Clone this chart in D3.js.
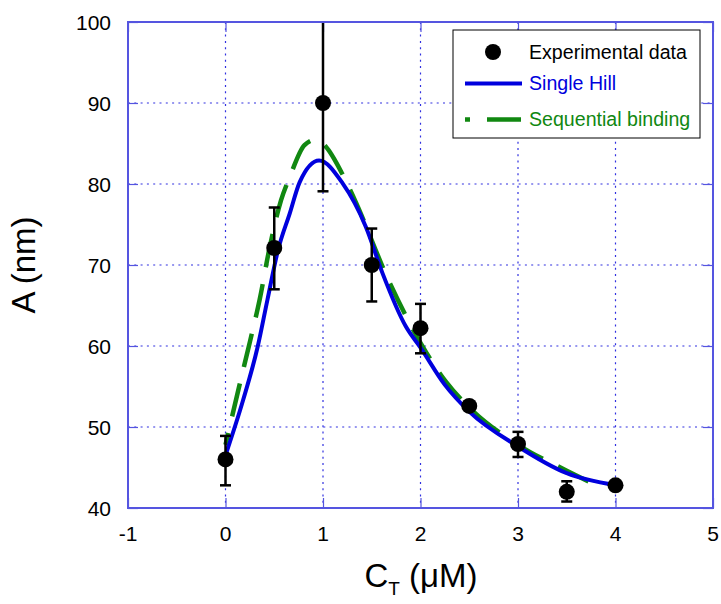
<!DOCTYPE html>
<html>
<head>
<meta charset="utf-8">
<script src="https://cdn.jsdelivr.net/npm/d3@7"></script>
<style>
  html, body { margin: 0; padding: 0; background: #fff; }
  text { font-family: "Liberation Sans", Arial, sans-serif; }
</style>
</head>
<body>
<svg id="chart" width="721" height="604"></svg>
<script>
// Measured amplitude vs total concentration
const concentration = [0, 0.5, 1, 1.5, 2, 2.5, 3, 3.5, 4];
const amplitude     = [46, 72.1, 90, 70, 62.2, 52.6, 47.9, 42, 42.8];
const errLow        = [42.8, 67, 79.1, 65.5, 59.1, null, 46.3, 40.8, null];
const errHigh       = [48.9, 77.1, 101, 74.5, 65.2, null, 49.4, 43.3, null];

// Fitted curve: single Hill model
const hillX = [0, 0.18, 0.33, 0.43, 0.54, 0.66, 0.76, 0.96, 1.2, 1.44, 1.61, 1.85, 2.0, 2.25, 2.5, 3.0, 3.5, 4.0];
const hillY = [46.5, 53.3, 59.9, 65.7, 71.9, 76.4, 80.2, 82.9, 80.1, 74.7, 69.0, 62.4, 59.8, 55.2, 51.9, 47.6, 44.3, 42.8];

// Fitted curve: sequential binding model
const seqX = [0, 0.144, 0.25, 0.35, 0.45, 0.57, 0.66, 0.81, 0.93, 1.03, 1.2, 1.32, 1.68, 2.0, 2.26, 2.5, 3.0, 3.5, 3.75];
const seqY = [47.8, 55.2, 60.5, 65.7, 72.0, 78.0, 80.9, 84.8, 85.5, 84.6, 81.2, 78.2, 67.9, 60.4, 55.6, 52.4, 47.8, 44.6, 43.1];

const xTicks = [-1, 0, 1, 2, 3, 4, 5];
const yTicks = [40, 50, 60, 70, 80, 90, 100];
const legendLabels = ["Experimental data", "Single Hill", "Sequential binding"];

(function () {
  const svg = d3.select("#chart");
  const pL = 128, pR = 713, pT = 22, pB = 508;

  const x = d3.scaleLinear().domain([-1, 5]).range([pL, pR]);
  const y = d3.scaleLinear().domain([40, 100]).range([pB, pT]);

  const frameColor = "#5555e0";
  const gridColor = "#3030e0";
  const dashOn = 34, dashOff = 17;

  svg.append("defs").append("clipPath").attr("id", "plotClip")
    .append("rect").attr("x", pL).attr("y", pT)
    .attr("width", pR - pL).attr("height", pB - pT);

  // grid
  const grid = svg.append("g");
  grid.selectAll("line.gx").data(xTicks.slice(1, -1)).join("line")
    .attr("class", "gx")
    .attr("x1", d => x(d)).attr("x2", d => x(d))
    .attr("y1", pT).attr("y2", pB)
    .attr("stroke", gridColor).attr("stroke-width", 1.2)
    .attr("stroke-dasharray", "2,4.3");
  grid.selectAll("line.gy").data(yTicks.slice(1, -1)).join("line")
    .attr("class", "gy")
    .attr("y1", d => y(d)).attr("y2", d => y(d))
    .attr("x1", pL).attr("x2", pR)
    .attr("stroke", gridColor).attr("stroke-width", 1.2)
    .attr("stroke-dasharray", "2,4.3");

  // axes (ticks pointing inward)
  const xAxis = svg.append("g").attr("transform", `translate(0,${pB})`)
    .call(d3.axisTop(x).tickValues(xTicks).tickSize(10).tickFormat(""));
  const yAxis = svg.append("g").attr("transform", `translate(${pL},0)`)
    .call(d3.axisRight(y).tickValues(yTicks).tickSize(10).tickFormat(""));
  const xAxisTop = svg.append("g").attr("transform", `translate(0,${pT})`)
    .call(d3.axisBottom(x).tickValues(xTicks).tickSize(10).tickFormat(""));
  const yAxisRight = svg.append("g").attr("transform", `translate(${pR},0)`)
    .call(d3.axisLeft(y).tickValues(yTicks).tickSize(10).tickFormat(""));
  [xAxis, yAxis, xAxisTop, yAxisRight].forEach(g => {
    g.select(".domain").remove();
    g.selectAll("line").attr("stroke", frameColor).attr("stroke-width", 1.2);
  });

  // tick labels
  svg.append("g").selectAll("text").data(xTicks).join("text")
    .attr("x", d => x(d)).attr("y", pB + 33)
    .attr("text-anchor", "middle").attr("font-size", 21).attr("fill", "#000")
    .text(d => d);
  svg.append("g").selectAll("text").data(yTicks).join("text")
    .attr("x", 111).attr("y", d => y(d) + 7.5)
    .attr("text-anchor", "end").attr("font-size", 21).attr("fill", "#000")
    .text(d => d);

  // curves
  const plot = svg.append("g").attr("clip-path", "url(#plotClip)");
  const line = d3.line().x(d => x(d[0])).y(d => y(d[1])).curve(d3.curveMonotoneX);

  const seqPath = plot.append("path")
    .datum(seqX.map((v, i) => [v, seqY[i]]))
    .attr("d", line).attr("fill", "none")
    .attr("stroke", "#118811").attr("stroke-width", 4.5)
    .attr("stroke-dasharray", `${dashOn},${dashOff}`);

  // phase the dashes so that a gap sits over the top of the peak
  const node = seqPath.node();
  const total = node.getTotalLength();
  const target = x(0.81);
  let lo = 0, hi = total;
  for (let k = 0; k < 40; k++) {
    const mid = (lo + hi) / 2;
    if (node.getPointAtLength(mid).x < target) lo = mid; else hi = mid;
  }
  const period = dashOn + dashOff;
  const offset = (((dashOn - lo) % period) + period) % period;
  seqPath.attr("stroke-dashoffset", -offset);

  plot.append("path")
    .datum(hillX.map((v, i) => [v, hillY[i]]))
    .attr("d", line).attr("fill", "none")
    .attr("stroke", "#0000dd").attr("stroke-width", 4);

  // error bars
  const pts = concentration.map((c, i) => ({c, a: amplitude[i], lo: errLow[i], hi: errHigh[i]}));
  const eb = plot.append("g").selectAll("g").data(pts.filter(p => p.lo !== null)).join("g")
    .attr("stroke", "#000").attr("stroke-width", 2.5);
  eb.append("line")
    .attr("x1", d => x(d.c)).attr("x2", d => x(d.c))
    .attr("y1", d => y(d.lo)).attr("y2", d => y(d.hi));
  eb.append("line")
    .attr("x1", d => x(d.c) - 5.5).attr("x2", d => x(d.c) + 5.5)
    .attr("y1", d => y(d.lo)).attr("y2", d => y(d.lo));
  eb.append("line")
    .attr("x1", d => x(d.c) - 5.5).attr("x2", d => x(d.c) + 5.5)
    .attr("y1", d => y(d.hi)).attr("y2", d => y(d.hi));

  // data markers
  svg.append("g").selectAll("circle").data(pts).join("circle")
    .attr("cx", d => x(d.c)).attr("cy", d => y(d.a)).attr("r", 8)
    .attr("fill", "#000");

  // frame
  svg.append("rect").attr("x", pL).attr("y", pT)
    .attr("width", pR - pL).attr("height", pB - pT)
    .attr("fill", "none").attr("stroke", frameColor).attr("stroke-width", 2);

  // axis titles
  svg.append("text")
    .attr("transform", `translate(35,${(pT + pB) / 2}) rotate(-90)`)
    .attr("text-anchor", "middle").attr("font-size", 33).attr("fill", "#000")
    .text("A (nm)");
  const xt = svg.append("text")
    .attr("x", 421).attr("y", 587)
    .attr("text-anchor", "middle").attr("font-size", 33).attr("fill", "#000");
  xt.append("tspan").text("C");
  xt.append("tspan").attr("font-size", 19).attr("dy", 8).text("T");
  xt.append("tspan").attr("dy", -8).text(" (\u03BCM)");

  // legend
  const lg = svg.append("g");
  lg.append("rect").attr("x", 453).attr("y", 30).attr("width", 247).attr("height", 108)
    .attr("fill", "#fff").attr("stroke", "#000").attr("stroke-width", 1);
  lg.append("circle").attr("cx", 493).attr("cy", 52).attr("r", 8).attr("fill", "#000");
  lg.append("line").attr("x1", 465).attr("x2", 522).attr("y1", 83.5).attr("y2", 83.5)
    .attr("stroke", "#0000dd").attr("stroke-width", 4);
  lg.append("line").attr("x1", 465).attr("x2", 522).attr("y1", 119.5).attr("y2", 119.5)
    .attr("stroke", "#118811").attr("stroke-width", 4.5)
    .attr("stroke-dasharray", `${dashOn},${dashOff}`).attr("stroke-dashoffset", 29);
  const legendColors = ["#000", "#0000dd", "#118811"];
  const legendY = [59, 90, 126];
  lg.selectAll("text.lbl").data(legendLabels).join("text")
    .attr("class", "lbl")
    .attr("x", 529).attr("y", (d, i) => legendY[i])
    .attr("font-size", 19.6).attr("fill", (d, i) => legendColors[i])
    .text(d => d);
})();
</script>
</body>
</html>
